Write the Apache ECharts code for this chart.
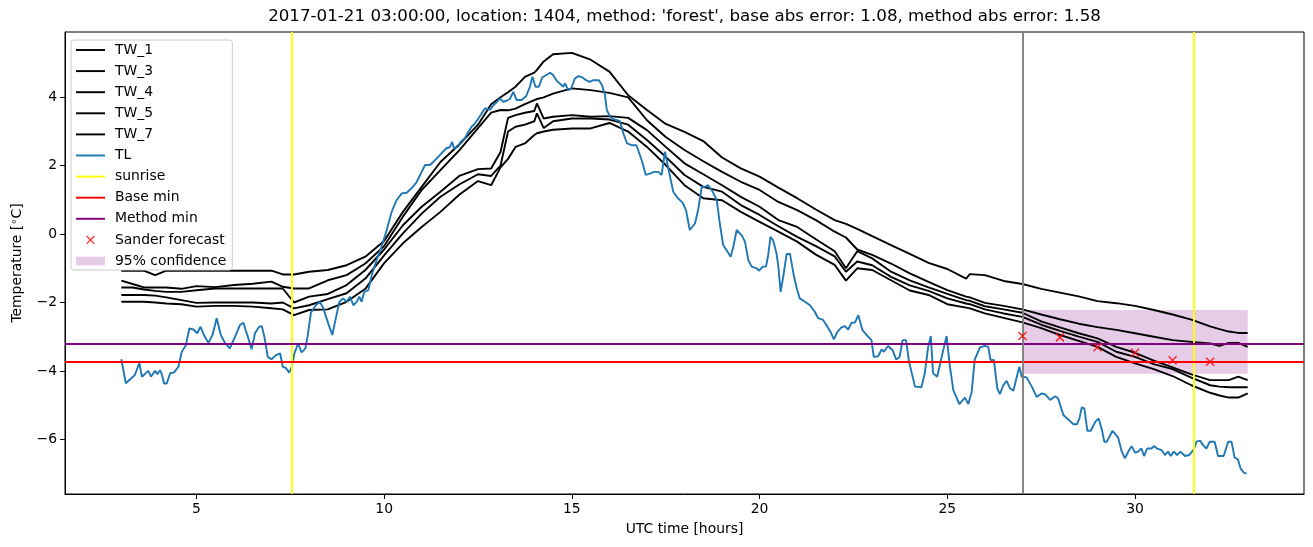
<!DOCTYPE html>
<html>
<head>
<meta charset="utf-8">
<script src="https://cdn.jsdelivr.net/npm/echarts@6/dist/echarts.min.js"></script>
<style>
html,body{margin:0;padding:0;background:#fff}
#main{width:1313px;height:547px}
</style>
</head>
<body>
<div id="main"></div>
<script>
// air temperature (TL), hours since 2017-01-21 00:00 UTC
var tlHours = [
 3.00,3.12,3.36,3.48,3.55,3.72,3.79,3.90,3.96,4.03,
 4.07,4.14,4.21,4.30,4.40,4.52,4.61,4.72,4.81,4.92,
 5.02,5.11,5.20,5.32,5.43,5.54,5.65,5.76,5.89,6.03,
 6.16,6.25,6.37,6.47,6.56,6.67,6.74,6.81,6.90,7.00,
 7.12,7.23,7.30,7.38,7.47,7.54,7.61,7.71,7.80,7.90,
 7.96,8.05,8.18,8.29,8.38,8.51,8.62,8.72,8.81,8.91,
 9.00,9.09,9.18,9.27,9.34,9.40,9.47,9.58,9.67,9.80,
 9.93,10.07,10.20,10.33,10.47,10.60,10.73,10.87,11.00,11.09,
 11.22,11.31,11.44,11.57,11.66,11.75,11.81,11.86,11.97,12.04,
 12.15,12.24,12.33,12.42,12.51,12.60,12.69,12.73,12.82,12.91,
 13.01,13.08,13.17,13.26,13.35,13.44,13.53,13.66,13.78,13.88,
 13.95,14.03,14.12,14.21,14.33,14.42,14.50,14.60,14.70,14.77,
 14.82,14.90,14.98,15.08,15.18,15.28,15.38,15.47,15.57,15.72,
 15.80,15.88,15.93,16.02,16.12,16.20,16.28,16.37,16.47,16.59,
 16.72,16.86,16.97,17.08,17.19,17.30,17.39,17.48,17.57,17.70,
 17.83,17.95,18.04,18.14,18.28,18.37,18.46,18.54,18.63,18.75,
 18.86,18.94,19.03,19.12,19.23,19.30,19.39,19.52,19.61,19.70,
 19.79,19.92,19.99,20.08,20.17,20.23,20.29,20.36,20.45,20.50,
 20.56,20.63,20.72,20.81,20.90,20.99,21.07,21.21,21.34,21.47,
 21.56,21.69,21.78,21.89,21.98,22.07,22.18,22.27,22.36,22.45,
 22.54,22.63,22.74,22.85,22.98,23.04,23.16,23.25,23.31,23.42,
 23.54,23.64,23.73,23.81,23.90,23.98,24.14,24.31,24.40,24.49,
 24.56,24.62,24.73,24.85,24.98,25.07,25.16,25.32,25.47,25.56,
 25.65,25.73,25.87,26.00,26.09,26.15,26.24,26.33,26.40,26.49,
 26.58,26.67,26.76,26.85,26.92,26.98,27.11,27.25,27.38,27.51,
 27.60,27.74,27.87,27.95,28.09,28.22,28.36,28.45,28.52,28.58,
 28.65,28.73,28.82,28.94,29.03,29.12,29.18,29.25,29.40,29.55,
 29.64,29.73,29.82,29.91,30.00,30.08,30.17,30.24,30.32,30.44,
 30.50,30.59,30.71,30.80,30.88,30.95,31.03,31.12,31.21,31.33,
 31.44,31.55,31.64,31.73,31.81,31.90,31.99,32.12,32.21,32.36,
 32.48,32.57,32.65,32.74,32.81,32.90,32.97
];
var tlTemp = [
 -3.66,-4.36,-4.12,-3.77,-4.17,-4.00,-4.17,-4.00,-4.10,-3.98,
 -4.07,-4.37,-4.37,-4.07,-4.05,-3.88,-3.44,-3.25,-2.76,-2.79,
 -2.90,-2.71,-2.95,-3.18,-2.95,-2.46,-2.95,-3.18,-3.34,-3.00,
 -2.66,-2.59,-3.00,-3.37,-2.90,-2.71,-2.69,-3.00,-3.59,-3.66,
 -3.54,-3.49,-3.88,-3.91,-4.05,-3.88,-3.49,-3.20,-3.46,-3.35,
 -3.00,-2.30,-2.08,-1.98,-2.17,-2.61,-2.95,-2.42,-1.98,-1.88,
 -1.98,-1.83,-2.08,-1.98,-1.83,-1.98,-1.69,-1.64,-1.20,-0.76,
 -0.37,0.12,0.65,0.99,1.19,1.21,1.34,1.53,1.82,2.02,
 2.02,2.11,2.26,2.41,2.51,2.54,2.70,2.51,2.55,2.70,
 2.80,2.99,3.14,3.24,3.38,3.53,3.68,3.72,3.63,3.77,
 3.87,3.97,3.87,3.90,3.95,4.16,3.92,3.92,4.03,4.30,
 4.60,4.31,4.31,4.58,4.66,4.72,4.65,4.48,4.38,4.31,
 4.41,4.21,4.25,4.55,4.62,4.58,4.50,4.45,4.50,4.50,
 4.36,4.08,3.63,3.42,3.36,3.33,3.30,2.95,2.65,2.60,
 2.60,2.16,1.73,1.77,1.82,1.82,1.73,2.41,1.92,1.24,
 1.04,0.92,0.70,0.12,0.31,0.75,1.38,1.38,1.43,1.24,
 0.99,0.31,-0.32,-0.47,-0.66,-0.37,0.12,-0.03,-0.22,-0.76,
 -0.95,-1.00,-1.07,-0.95,-0.95,-0.61,-0.08,-0.18,-0.56,-0.95,
 -1.69,-1.25,-0.58,-0.58,-1.15,-1.59,-1.88,-1.98,-2.08,-2.27,
 -2.46,-2.51,-2.66,-2.86,-3.08,-2.86,-2.73,-2.69,-2.79,-2.59,
 -2.59,-2.37,-2.81,-2.95,-3.10,-3.59,-3.57,-3.37,-3.44,-3.27,
 -3.39,-3.67,-3.59,-3.10,-3.10,-3.73,-4.46,-4.48,-4.07,-3.30,
 -2.98,-4.07,-4.17,-3.59,-2.98,-3.88,-4.56,-4.97,-4.78,-4.97,
 -4.61,-3.67,-3.31,-3.27,-3.30,-3.68,-3.68,-4.51,-4.68,-4.42,
 -4.29,-4.51,-4.58,-4.17,-3.88,-4.17,-4.19,-4.46,-4.76,-4.66,
 -4.68,-4.85,-4.74,-4.80,-5.29,-5.42,-5.56,-5.56,-5.39,-5.07,
 -5.10,-5.75,-5.75,-5.49,-5.39,-5.73,-6.07,-6.07,-5.75,-5.95,
 -6.34,-6.56,-6.36,-6.20,-6.39,-6.36,-6.27,-6.49,-6.27,-6.27,
 -6.20,-6.27,-6.32,-6.46,-6.36,-6.49,-6.36,-6.46,-6.36,-6.49,
 -6.46,-6.32,-6.07,-6.04,-6.17,-6.27,-6.07,-6.07,-6.49,-6.49,
 -6.07,-6.07,-6.53,-6.59,-6.85,-6.98,-7.00
];

// road weather station temperatures (TW_*)
var twHours = [
 3.0,3.3,3.6,3.9,4.2,4.6,5.0,5.5,6.0,6.5,
 7.0,7.3,7.6,8.0,8.5,9.0,9.5,10.0,10.5,11.0,
 11.5,12.0,12.5,12.85,13.1,13.3,13.5,13.75,14.0,14.07,
 14.25,14.5,15.0,15.5,16.0,16.5,17.0,17.5,18.0,18.5,
 19.0,19.5,20.0,20.5,21.0,21.5,22.0,22.3,22.6,23.0,
 23.5,24.0,24.5,25.0,25.5,25.6,26.0,26.5,27.0,27.5,
 28.0,28.5,29.0,29.5,30.0,30.5,31.0,31.5,32.0,32.25,
 32.5,32.75,33.0
];
var tw1 = [
 -1.07,-1.07,-1.07,-1.20,-1.07,-1.07,-1.07,-1.07,-1.07,-1.07,
 -1.07,-1.18,-1.18,-1.10,-1.05,-0.91,-0.66,-0.20,0.65,1.38,
 2.11,2.62,3.20,3.80,4.00,4.15,4.31,4.60,4.72,4.80,
 5.05,5.26,5.30,5.10,4.75,4.06,3.63,3.22,2.99,2.72,
 2.24,1.92,1.68,1.36,1.05,0.72,0.41,0.30,0.15,-0.06,
 -0.32,-0.58,-0.84,-1.02,-1.30,-1.17,-1.20,-1.37,-1.46,-1.60,
 -1.71,-1.82,-1.96,-2.02,-2.10,-2.22,-2.35,-2.50,-2.70,-2.78,
 -2.85,-2.89,-2.89
];
var tw3 = [
 -1.36,-1.46,-1.56,-1.56,-1.56,-1.60,-1.52,-1.55,-1.49,-1.45,
 -1.39,-1.54,-1.59,-1.59,-1.35,-1.20,-0.86,-0.35,0.51,1.29,
 1.87,2.45,3.10,3.55,3.63,3.62,3.67,3.80,3.92,3.95,
 4.00,4.11,4.26,4.21,4.13,4.00,3.33,2.84,2.46,2.13,
 1.82,1.53,1.29,0.94,0.70,0.41,0.07,-0.10,-0.45,-0.61,
 -0.86,-1.15,-1.40,-1.64,-1.83,-1.85,-2.01,-2.10,-2.20,-2.35,
 -2.49,-2.62,-2.72,-2.80,-2.90,-3.00,-3.10,-3.15,-3.20,-3.27,
 -3.18,-3.18,-3.30
];
var tw4 = [
 -1.56,-1.56,-1.62,-1.66,-1.69,-1.69,-1.64,-1.59,-1.59,-1.59,
 -1.59,-1.59,-2.00,-1.83,-1.75,-1.49,-1.05,-0.45,0.26,0.80,
 1.24,1.70,1.90,1.92,2.40,3.40,3.48,3.55,3.60,3.82,
 3.38,3.43,3.48,3.43,3.45,3.40,3.04,2.55,2.07,1.75,
 1.43,1.09,0.80,0.41,0.21,-0.15,-0.50,-1.00,-0.50,-0.71,
 -1.10,-1.35,-1.56,-1.75,-1.93,-1.95,-2.11,-2.20,-2.30,-2.55,
 -2.73,-2.90,-3.05,-3.30,-3.47,-3.70,-3.90,-4.10,-4.27,-4.27,
 -4.27,-4.17,-4.27
];
var tw5 = [
 -1.78,-1.78,-1.78,-1.80,-1.85,-1.93,-2.01,-2.00,-2.00,-2.00,
 -2.03,-2.00,-2.17,-2.08,-1.90,-1.73,-1.30,-0.62,0.02,0.60,
 1.09,1.45,1.75,1.70,2.00,3.00,3.14,3.20,3.30,3.53,
 3.10,3.30,3.38,3.38,3.35,3.20,2.75,2.26,1.73,1.38,
 1.24,0.85,0.56,0.23,-0.08,-0.35,-0.65,-1.10,-0.80,-0.91,
 -1.25,-1.50,-1.66,-1.88,-2.03,-2.05,-2.20,-2.32,-2.42,-2.65,
 -2.83,-3.00,-3.15,-3.44,-3.59,-3.80,-3.95,-4.20,-4.42,-4.46,
 -4.48,-4.48,-4.48
];
var tw7 = [
 -1.98,-1.98,-1.98,-2.00,-2.03,-2.05,-2.12,-2.10,-2.10,-2.12,
 -2.17,-2.20,-2.37,-2.22,-2.20,-1.98,-1.60,-0.85,-0.27,0.21,
 0.65,1.15,1.55,1.43,1.95,2.20,2.55,2.65,2.90,2.95,
 3.00,3.05,3.09,3.09,3.25,3.00,2.55,2.02,1.43,1.05,
 0.99,0.65,0.36,0.07,-0.22,-0.60,-0.90,-1.36,-1.00,-1.05,
 -1.35,-1.65,-1.78,-2.05,-2.15,-2.17,-2.32,-2.45,-2.58,-2.75,
 -2.95,-3.12,-3.30,-3.59,-3.78,-3.95,-4.15,-4.42,-4.64,-4.72,
 -4.78,-4.78,-4.66
];

var sunriseHours = [7.55, 31.57];
var forecastStart = 27;
var baseMin = -3.72;
var methodMin = -3.22;
var sanderHours = [27, 28, 29, 30, 31, 32];
var sanderTemp = [-2.98, -3.02, -3.31, -3.47, -3.69, -3.73];
var confHours = [27, 33];
var confLow = -4.08, confHigh = -2.22;
var xTicks = [5, 10, 15, 20, 25, 30];
var yTicks = [-6, -4, -2, 0, 2, 4];

var FONT = 'DejaVu Sans';
var FS = 13.9;
var twNames = ['TW_1', 'TW_3', 'TW_4', 'TW_5', 'TW_7'];
var twData = [tw1, tw3, tw4, tw5, tw7];

function pairs(xs, ys) {
	var out = [];
	for (var i = 0; i < xs.length; i++) out.push([xs[i], ys[i]]);
	return out;
}

// legend icons, drawn in a 30x10 box
var lineIcon = 'path://M0,0M0,4H30V6H0ZM30,10';
var crossIcon = 'path://M0,0M11.4,0.4L19.6,8.6L18.6,9.6L10.4,1.4ZM19.6,1.4L11.4,9.6L10.4,8.6L18.6,0.4ZM30,10';
var patchIcon = 'path://M0,0M0,0.5H30V9.5H0ZM30,10';

var series = [];
// 95% confidence band (drawn under the lines, as in matplotlib)
series.push({
	name: '95% confidence', type: 'line', data: [], z: 1,
	color: 'rgba(128,0,128,0.2)',
	markArea: {
		silent: true,
		itemStyle: {color: 'rgba(128,0,128,0.2)'},
		data: [[{xAxis: confHours[0], yAxis: confHigh}, {xAxis: confHours[1], yAxis: confLow}]]
	}
});
for (var k = 0; k < twNames.length; k++) {
	series.push({
		name: twNames[k], type: 'line', z: 2,
		data: pairs(twHours, twData[k]),
		showSymbol: false, symbol: 'none', color: '#000000',
		lineStyle: {color: '#000000', width: 1.9}
	});
}
series.push({
	name: 'TL', type: 'line', z: 3,
	data: pairs(tlHours, tlTemp),
	showSymbol: false, symbol: 'none', color: '#1f77b4',
	lineStyle: {color: '#1f77b4', width: 1.9}
});
function refLine(name, color, items) {
	return {
		name: name, type: 'line', data: [], z: 4, color: color,
		markLine: {
			silent: true, symbol: ['none', 'none'], label: {show: false},
			lineStyle: {color: color, width: 1.9, type: 'solid'},
			emphasis: {disabled: true},
			data: items
		}
	};
}
series.push(refLine('sunrise', '#ffff00', sunriseHours.map(function (h) { return {xAxis: h}; })));
series.push(refLine('Base min', '#ff0000', [{yAxis: baseMin}]));
series.push(refLine('Method min', '#800080', [{yAxis: methodMin}]));
series.push(refLine('forecast start', '#808080', [{xAxis: forecastStart}]));
series.push({
	name: 'Sander forecast', type: 'scatter', z: 5,
	data: pairs(sanderHours, sanderTemp),
	symbol: 'path://M0,0L10,10M10,0L0,10', symbolSize: 8,
	color: '#ff0000',
	itemStyle: {color: '#ff0000', borderColor: '#ff0000', borderWidth: 1.5}
});

var legendItems = [
	{name: 'TW_1', icon: lineIcon}, {name: 'TW_3', icon: lineIcon}, {name: 'TW_4', icon: lineIcon},
	{name: 'TW_5', icon: lineIcon}, {name: 'TW_7', icon: lineIcon}, {name: 'TL', icon: lineIcon},
	{name: 'sunrise', icon: lineIcon}, {name: 'Base min', icon: lineIcon}, {name: 'Method min', icon: lineIcon},
	{name: 'Sander forecast', icon: crossIcon}, {name: '95% confidence', icon: patchIcon}
];

var chart = echarts.init(document.getElementById('main'), null, {renderer: 'canvas'});
chart.setOption({
	animation: false,
	backgroundColor: '#ffffff',
	textStyle: {fontFamily: FONT},
	title: {
		text: "2017-01-21 03:00:00, location: 1404, method: 'forest', base abs error: 1.08, method abs error: 1.58",
		left: 684.5, top: 8, textAlign: 'center', padding: 0,
		textStyle: {fontFamily: FONT, fontSize: 16.7, fontWeight: 'normal', color: '#000'}
	},
	legend: {
		orient: 'vertical', left: 71, top: 40,
		backgroundColor: '#ffffff', borderColor: '#cccccc', borderWidth: 1, borderRadius: 3,
		padding: [3, 6, 2, 5], itemWidth: 29, itemHeight: 10, itemGap: 7.1,
		itemStyle: {borderWidth: 0},
		selectedMode: false,
		textStyle: {fontFamily: FONT, fontSize: FS, color: '#000', padding: [0, 0, 0, 5]},
		data: legendItems
	},
	grid: {
		left: 65, right: 9, top: 32, bottom: 53,
		show: true, borderColor: '#000', borderWidth: 1, backgroundColor: 'transparent'
	},
	xAxis: {
		type: 'value', min: 1.5, max: 34.5,
		name: 'UTC time [hours]', nameLocation: 'middle', nameGap: 28,
		nameTextStyle: {fontFamily: FONT, fontSize: FS, color: '#000'},
		axisLine: {show: true, onZero: false, lineStyle: {color: '#000', width: 1}},
		axisTick: {show: true, length: 5, customValues: xTicks, lineStyle: {color: '#000', width: 1}},
		axisLabel: {customValues: xTicks, margin: 8, color: '#000', fontFamily: FONT, fontSize: FS},
		splitLine: {show: false}
	},
	yAxis: {
		type: 'value', min: -7.6, max: 5.91,
		name: 'Temperature [{s|∘}C]', nameLocation: 'middle', nameGap: 40,
		nameTextStyle: {fontFamily: FONT, fontSize: FS, color: '#000',
			rich: {s: {fontFamily: FONT, fontSize: 10, color: '#000', padding: [0, 0, 6, 0]}}},
		axisLine: {show: true, onZero: false, lineStyle: {color: '#000', width: 1}},
		axisTick: {show: true, length: 5, customValues: yTicks, lineStyle: {color: '#000', width: 1}},
		axisLabel: {customValues: yTicks, margin: 8, color: '#000', fontFamily: FONT, fontSize: FS,
			formatter: function (v) { return v < 0 ? '\u2212' + Math.abs(v) : String(v); }},
		splitLine: {show: false}
	},
	series: series
});
</script>
</body>
</html>
